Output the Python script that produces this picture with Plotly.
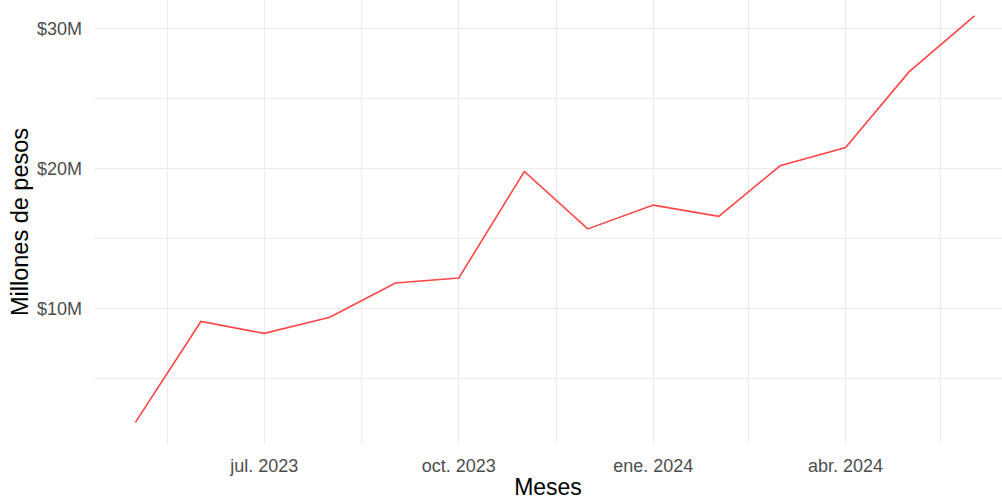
import plotly.graph_objects as go

# Data
meses = ["2023-05-01", "2023-06-01", "2023-07-01", "2023-08-01", "2023-09-01",
         "2023-10-01", "2023-11-01", "2023-12-01", "2024-01-01", "2024-02-01",
         "2024-03-01", "2024-04-01", "2024-05-01", "2024-06-01"]
millones = [1.9, 9.1, 8.25, 9.4, 11.85, 12.2, 19.8, 15.7, 17.4, 16.6,
            20.2, 21.5, 26.9, 30.9]

x_tick_vals = ["2023-07-01", "2023-10-01", "2024-01-01", "2024-04-01"]
x_tick_text = ["jul. 2023", "oct. 2023", "ene. 2024", "abr. 2024"]
x_minor_vals = ["2023-05-16", "2023-08-16", "2023-11-16", "2024-02-15", "2024-05-16"]
y_tick_vals = [10, 20, 30]
y_tick_text = ["$10M", "$20M", "$30M"]
y_minor_vals = [5, 15, 25]

fig = go.Figure()
fig.add_trace(go.Scatter(
    x=meses, y=millones, mode="lines",
    line=dict(color="#FF4646", width=1.6),
    showlegend=False, hoverinfo="x+y",
))

font_family = "Liberation Sans, Arial, sans-serif"
grid = "#EBEBEB"

fig.update_layout(
    width=1002, height=500,
    margin=dict(l=94, r=0, t=0, b=56, autoexpand=False),
    plot_bgcolor="white", paper_bgcolor="white",
    font=dict(family=font_family),
    xaxis=dict(
        type="date", automargin=False,
        range=["2023-04-11 10:00", "2024-06-14"],
        tickmode="array", tickvals=x_tick_vals, ticktext=x_tick_text,
        tickfont=dict(size=18, color="#4D4D4D"),
        ticklabelstandoff=9,
        showgrid=True, gridcolor=grid, gridwidth=1.4,
        zeroline=False, showline=False, ticks="",
        minor=dict(tickmode="array", tickvals=x_minor_vals, showgrid=True,
                   gridcolor=grid, gridwidth=0.9, ticks=""),
        title=dict(text="Meses", font=dict(size=23, color="black"), standoff=9),
        fixedrange=True,
    ),
    yaxis=dict(
        automargin=False,
        range=[0.36, 32.03],
        tickmode="array", tickvals=y_tick_vals, ticktext=y_tick_text,
        tickfont=dict(size=18, color="#4D4D4D"),
        ticklabelstandoff=11,
        showgrid=True, gridcolor=grid, gridwidth=1.4,
        zeroline=False, showline=False, ticks="",
        minor=dict(tickmode="array", tickvals=y_minor_vals, showgrid=True,
                   gridcolor=grid, gridwidth=0.9, ticks=""),
        title=dict(text="Millones de pesos", font=dict(size=23.5, color="black"), standoff=1),
        fixedrange=True,
    ),
)

fig.write_html("out.html",
               config={"displayModeBar": False},
               post_script="document.body.style.margin='0';document.body.style.overflow='hidden';")
